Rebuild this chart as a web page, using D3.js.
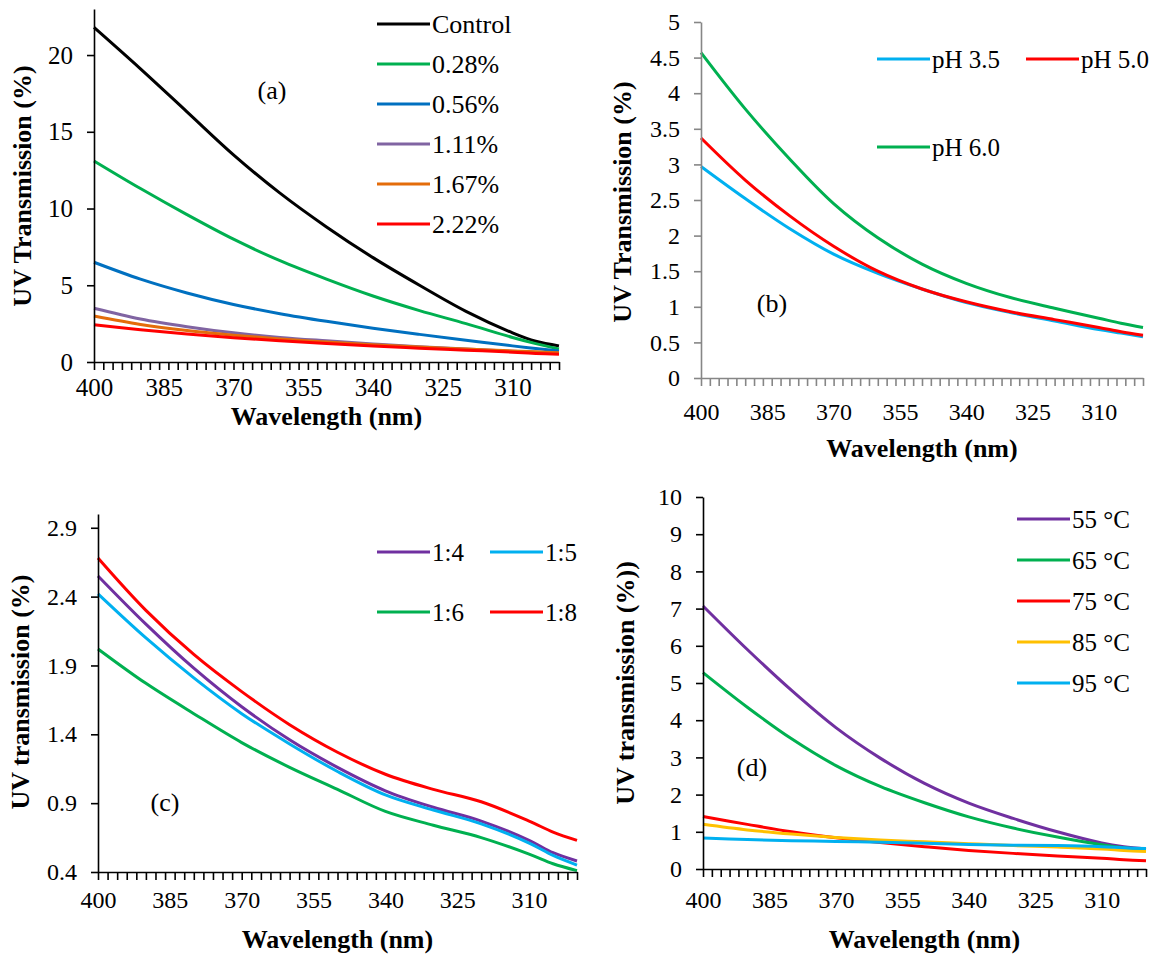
<!DOCTYPE html>
<html>
<head>
<meta charset="utf-8">
<script src="https://cdn.jsdelivr.net/npm/d3@7"></script>
<style>
  body { margin: 0; background: #fff; }
  svg { display: block; }
  text { font-family: "Liberation Serif", "Times New Roman", serif; }
</style>
</head>
<body>
<div id="chart"></div>
<script>
// size of the whole figure
var svgWidth = 1162;
var svgHeight = 956;
var serif = "'Liberation Serif', 'Times New Roman', serif";

var wavelengths = [400, 390, 380, 370, 360, 350, 340, 330, 320, 310, 305, 300];
var xLabelTicks = [400, 385, 370, 355, 340, 325, 310];

// (a) concentration
var concNames = ["Control", "0.28%", "0.56%", "1.11%", "1.67%", "2.22%"];
var concColors = ["#000000", "#00B050", "#0070C0", "#8064A2", "#E46C0A", "#FF0000"];
var concControl = [21.8, 19.1, 16.3, 13.5, 11.0, 8.8, 6.8, 5.0, 3.3, 1.9, 1.35, 1.05];
var conc028 = [13.1, 11.3, 9.6, 8.0, 6.6, 5.4, 4.3, 3.35, 2.5, 1.6, 1.2, 0.85];
var conc056 = [6.5, 5.4, 4.5, 3.75, 3.15, 2.65, 2.2, 1.8, 1.42, 1.05, 0.88, 0.72];
var conc111 = [3.5, 2.8, 2.3, 1.9, 1.6, 1.38, 1.18, 1.0, 0.85, 0.7, 0.63, 0.57];
var conc167 = [3.0, 2.45, 2.05, 1.75, 1.5, 1.3, 1.12, 0.97, 0.84, 0.72, 0.66, 0.61];
var conc222 = [2.42, 2.1, 1.82, 1.58, 1.38, 1.2, 1.04, 0.9, 0.77, 0.64, 0.56, 0.5];
var yTicksA = [0, 5, 10, 15, 20];

// (b) pH
var phNames = ["pH 3.5", "pH 5.0", "pH 6.0"];
var phColors = ["#00B0F0", "#FF0000", "#00B050"];
var ph35 = [2.97, 2.52, 2.1, 1.74, 1.47, 1.25, 1.06, 0.92, 0.8, 0.68, 0.63, 0.58];
var ph50 = [3.37, 2.78, 2.28, 1.85, 1.5, 1.25, 1.07, 0.93, 0.82, 0.71, 0.65, 0.6];
var ph60 = [4.57, 3.78, 3.08, 2.45, 1.97, 1.6, 1.33, 1.13, 0.98, 0.84, 0.77, 0.71];
var yTicksB = [0, 0.5, 1, 1.5, 2, 2.5, 3, 3.5, 4, 4.5, 5];

// (c) ratio
var ratioNames = ["1:4", "1:5", "1:6", "1:8"];
var ratioColors = ["#7030A0", "#00B0F0", "#00B050", "#FF0000"];
var ratio14 = [2.55, 2.2, 1.88, 1.6, 1.36, 1.16, 0.99, 0.87, 0.77, 0.63, 0.54, 0.48];
var ratio15 = [2.42, 2.1, 1.81, 1.55, 1.33, 1.13, 0.96, 0.85, 0.75, 0.61, 0.52, 0.45];
var ratio16 = [2.02, 1.77, 1.55, 1.34, 1.16, 1.0, 0.84, 0.74, 0.65, 0.53, 0.46, 0.41];
var ratio18 = [2.68, 2.3, 1.98, 1.71, 1.47, 1.27, 1.11, 1.0, 0.91, 0.77, 0.69, 0.63];
var yTicksC = [0.4, 0.9, 1.4, 1.9, 2.4, 2.9];

// (d) temperature
var tempNames = ["55 \u00B0C", "65 \u00B0C", "75 \u00B0C", "85 \u00B0C", "95 \u00B0C"];
var tempColors = ["#7030A0", "#00B050", "#FF0000", "#FFC000", "#00B0F0"];
var temp55 = [7.07, 5.9, 4.8, 3.8, 2.98, 2.3, 1.77, 1.36, 1.0, 0.7, 0.6, 0.54];
var temp65 = [5.28, 4.35, 3.5, 2.78, 2.22, 1.78, 1.4, 1.1, 0.86, 0.65, 0.57, 0.52];
var temp75 = [1.41, 1.2, 1.0, 0.84, 0.71, 0.6, 0.5, 0.42, 0.35, 0.29, 0.25, 0.22];
var temp85 = [1.2, 1.05, 0.94, 0.85, 0.78, 0.73, 0.68, 0.63, 0.59, 0.54, 0.5, 0.47];
var temp95 = [0.83, 0.79, 0.76, 0.74, 0.72, 0.69, 0.66, 0.64, 0.63, 0.6, 0.57, 0.55];
var yTicksD = [0, 1, 2, 3, 4, 5, 6, 7, 8, 9, 10];

var svg = d3.select("#chart")
  .append("svg")
  .attr("width", svgWidth)
  .attr("height", svgHeight);

function drawPanel(p) {
  var g = svg.append("g");

  var x = d3.scaleLinear().domain([400, 300]).range([p.left, p.right]);
  var y = d3.scaleLinear().domain(p.yDomain).range([p.bottom, p.top]);

  // series
  var line = d3.line()
    .x(function(d) { return x(d[0]); })
    .y(function(d) { return y(d[1]); })
    .curve(d3.curveCatmullRom.alpha(0.5));

  p.series.forEach(function(s, i) {
    var pts = wavelengths.map(function(w, j) { return [w, s[j]]; });
    g.append("path")
      .datum(pts)
      .attr("fill", "none")
      .attr("stroke", p.colors[i])
      .attr("stroke-width", 3)
      .attr("d", line);
  });

  // x axis: small ticks every 2 nm
  var bottomAxis = d3.axisBottom(x)
    .tickValues(d3.range(400, 299, -2))
    .tickSize(8)
    .tickSizeOuter(0)
    .tickFormat("");

  var xAxis = g.append("g")
    .attr("transform", `translate(0, ${p.bottom})`)
    .call(bottomAxis);

  // labels every 15 nm
  var labelAxis = d3.axisBottom(x)
    .tickValues(xLabelTicks)
    .tickSize(0)
    .tickPadding(p.xLabelPad)
    .tickFormat(d3.format("d"));

  var xLabels = g.append("g")
    .attr("transform", `translate(0, ${p.bottom})`)
    .call(labelAxis);
  xLabels.select(".domain").remove();

  var leftAxis = d3.axisLeft(y)
    .tickValues(p.yTicks)
    .tickSize(7)
    .tickSizeOuter(0)
    .tickPadding(14)
    .tickFormat(p.yFormat);

  var yAxis = g.append("g")
    .attr("transform", `translate(${p.left}, 0)`)
    .call(leftAxis);

  [xAxis, xLabels, yAxis].forEach(function(a) {
    a.attr("font-family", serif).attr("font-size", p.tickFont);
    a.selectAll("path, line")
      .attr("stroke", p.axisColor)
      .attr("stroke-width", 1.6);
    a.selectAll("text")
      .attr("fill", "#000")
      .style("font-family", serif)
      .style("font-size", p.tickFont + "px");
  });

  // axis titles
  g.append("text")
    .attr("x", (p.left + p.right) / 2)
    .attr("y", p.xTitleY)
    .attr("text-anchor", "middle")
    .style("font-family", serif)
    .style("font-size", "26px")
    .style("font-weight", "bold")
    .text("Wavelength (nm)");

  g.append("text")
    .attr("transform", `translate(${p.yTitleX}, ${p.yTitleY}) rotate(-90)`)
    .attr("text-anchor", "middle")
    .style("font-family", serif)
    .style("font-size", "26px")
    .style("font-weight", "bold")
    .text(p.yTitle);

  // panel tag
  g.append("text")
    .attr("x", p.tag[0])
    .attr("y", p.tag[1])
    .attr("text-anchor", "middle")
    .style("font-family", serif)
    .style("font-size", "26px")
    .text(p.tag[2]);

  // legend
  p.names.forEach(function(name, i) {
    var pos = p.legend[i];
    g.append("line")
      .attr("x1", pos[0])
      .attr("x2", pos[0] + 53)
      .attr("y1", pos[1])
      .attr("y2", pos[1])
      .attr("stroke", p.colors[i])
      .attr("stroke-width", 3);
    g.append("text")
      .attr("x", pos[0] + 55)
      .attr("y", pos[1])
      .attr("dy", "0.35em")
      .style("font-family", serif)
      .style("font-size", p.legendFont + "px")
      .text(name);
  });
}

drawPanel({
  left: 94, right: 559, top: 9, bottom: 362,
  yDomain: [0, 23], yTicks: yTicksA, yFormat: d3.format("d"),
  axisColor: "#000", tickFont: 25, legendFont: 26, xLabelPad: 16,
  series: [concControl, conc028, conc056, conc111, conc167, conc222],
  names: concNames, colors: concColors,
  legend: [[377, 24], [377, 64], [377, 104], [377, 144], [377, 184], [377, 224]],
  xTitleY: 425, yTitleX: 31, yTitleY: 186, yTitle: "UV Transmission (%)",
  tag: [272, 99, "(a)"]
});

drawPanel({
  left: 701, right: 1143, top: 22, bottom: 378,
  yDomain: [0, 5], yTicks: yTicksB, yFormat: function(d) { return String(d); },
  axisColor: "#868686", tickFont: 24, legendFont: 25, xLabelPad: 25,
  series: [ph35, ph50, ph60],
  names: phNames, colors: phColors,
  legend: [[877, 59], [1026, 59], [877, 147]],
  xTitleY: 457, yTitleX: 631, yTitleY: 202, yTitle: "UV Transmission (%)",
  tag: [772, 312, "(b)"]
});

drawPanel({
  left: 98, right: 577, top: 514, bottom: 872,
  yDomain: [0.4, 3.0], yTicks: yTicksC, yFormat: d3.format(".1f"),
  axisColor: "#000", tickFont: 24, legendFont: 25, xLabelPad: 19,
  series: [ratio14, ratio15, ratio16, ratio18],
  names: ratioNames, colors: ratioColors,
  legend: [[377, 552], [490, 552], [377, 612], [490, 612]],
  xTitleY: 948, yTitleX: 29, yTitleY: 692, yTitle: "UV transmission (%)",
  tag: [165, 811, "(c)"]
});

drawPanel({
  left: 703, right: 1146, top: 497, bottom: 869,
  yDomain: [0, 10], yTicks: yTicksD, yFormat: d3.format("d"),
  axisColor: "#000", tickFont: 24, legendFont: 25, xLabelPad: 22,
  series: [temp55, temp65, temp75, temp85, temp95],
  names: tempNames, colors: tempColors,
  legend: [[1017, 519], [1017, 560], [1017, 601], [1017, 642], [1017, 683]],
  xTitleY: 948, yTitleX: 634, yTitleY: 683, yTitle: "UV transmission (%))",
  tag: [752, 776, "(d)"]
});
</script>
</body>
</html>
